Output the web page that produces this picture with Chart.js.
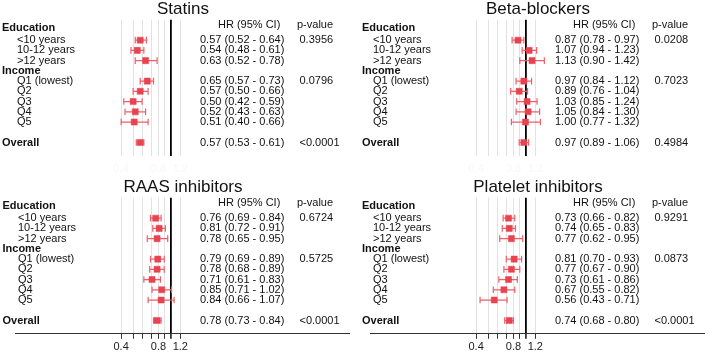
<!DOCTYPE html>
<html><head><meta charset="utf-8">
<script src="https://cdn.jsdelivr.net/npm/chart.js@4"></script>
<style>
html,body{margin:0;padding:0;background:#fff;}
#wrap{position:relative;width:709px;height:356px;background:#fff;}
.panel{position:absolute;width:354px;height:178px;}
canvas{display:block;}
</style></head><body>
<div id="wrap">
<div class="panel" style="left:0;top:0"><canvas id="c0" width="354" height="178" style="width:354px;height:178px"></canvas></div>
<div class="panel" style="left:355px;top:0"><canvas id="c1" width="354" height="178" style="width:354px;height:178px"></canvas></div>
<div class="panel" style="left:0;top:178px"><canvas id="c2" width="354" height="178" style="width:354px;height:178px"></canvas></div>
<div class="panel" style="left:355px;top:178px"><canvas id="c3" width="354" height="178" style="width:354px;height:178px"></canvas></div>
</div>
<script>
// ---- data ----
const categories = ['Education','<10 years','10-12 years','>12 years','Income','Q1 (lowest)','Q2','Q3','Q4','Q5','','Overall'];
const groupHeaders = ['Education','Income'];
const boldLabels = ['Education','Income','Overall'];
const pValueCategories = ['<10 years','Q1 (lowest)','Overall'];
const titles = ['Statins','Beta-blockers','RAAS inhibitors','Platelet inhibitors'];
const xTickValues = [0.4,0.5,0.6,0.7,0.8,0.9,1.0,1.2];
const xTickLabels = ['0.4','','','','0.8','','','1.2'];

const statinsHR = [0.57,0.54,0.63,0.65,0.57,0.50,0.52,0.51,0.57];
const statinsLo = [0.52,0.48,0.52,0.57,0.50,0.42,0.43,0.40,0.53];
const statinsHi = [0.64,0.61,0.78,0.73,0.66,0.59,0.63,0.66,0.61];
const statinsP  = ['0.3956','0.0796','<0.0001'];

const betaHR = [0.87,1.07,1.13,0.97,0.89,1.03,1.05,1.00,0.97];
const betaLo = [0.78,0.94,0.90,0.84,0.76,0.85,0.84,0.77,0.89];
const betaHi = [0.97,1.23,1.42,1.12,1.04,1.24,1.30,1.32,1.06];
const betaP  = ['0.0208','0.7023','0.4984'];

const raasHR = [0.76,0.81,0.78,0.79,0.78,0.71,0.85,0.84,0.78];
const raasLo = [0.69,0.72,0.65,0.69,0.68,0.61,0.71,0.66,0.73];
const raasHi = [0.84,0.91,0.95,0.89,0.89,0.83,1.02,1.07,0.84];
const raasP  = ['0.6724','0.5725','<0.0001'];

const plateletHR = [0.73,0.74,0.77,0.81,0.77,0.73,0.67,0.56,0.74];
const plateletLo = [0.66,0.65,0.62,0.70,0.67,0.61,0.55,0.43,0.68];
const plateletHi = [0.82,0.83,0.95,0.93,0.90,0.86,0.82,0.71,0.80];
const plateletP  = ['0.9291','0.0873','<0.0001'];

// ---- drawing ----
const FONT = "'Liberation Sans', Arial, Helvetica, sans-serif";
const SQ = '#E9434F';
const WH = '#EE5F69';
const TXT = '#111';
const XMIN = 0.05571, XMAX = 27.65;

const estimateRows = categories.map((c,i)=>i).filter(i => categories[i] !== '' && !groupHeaders.includes(categories[i]));
const pRows = pValueCategories.map(c => categories.indexOf(c));
const fmt = v => v.toFixed(2);

const textPlugin = {
  id: 'forestText',
  afterDraw(chart, args, o) {
    const ctx = chart.ctx;
    const ys = chart.scales.y;
    ctx.save();
    ctx.fillStyle = TXT;
    ctx.textBaseline = 'middle';
    ctx.textAlign = 'left';
    ctx.font = `11px ${FONT}`;
    const hy = ys.getPixelForValue(-0.5);
    ctx.fillText('HR (95% CI)', o.hrHeadX, hy);
    ctx.fillText('p-value', o.pHeadX, hy);
    categories.forEach((c, i) => {
      if (!c) return;
      const bold = boldLabels.includes(c);
      ctx.font = `${bold ? 'bold ' : ''}11px ${FONT}`;
      const x = bold ? o.labelX : o.indentX;
      const yy = ys.getPixelForValue(c === 'Education' ? i - 0.2 : i);
      ctx.fillText(c, x, yy);
    });
    ctx.font = `11px ${FONT}`;
    estimateRows.forEach((r, k) => {
      ctx.fillText(`${fmt(o.hr[k])} (${fmt(o.lo[k])} - ${fmt(o.hi[k])})`, o.hrX, ys.getPixelForValue(r));
    });
    pRows.forEach((r, k) => {
      ctx.fillText(o.p[k], o.pX, ys.getPixelForValue(r));
    });
    ctx.restore();
  }
};

function makeChart(id, title, hr, lo, hi, p, showAxis, labelX, indentX) {
  const points = hr.map((v, k) => ({x: v, y: estimateRows[k]}));
  const whiskers = hr.map((v, k) => ({
    data: [{x: lo[k], y: estimateRows[k]}, {x: hi[k], y: estimateRows[k]}],
    showLine: true,
    borderColor: WH,
    borderWidth: 1.2,
    pointStyle: 'line',
    rotation: 90,
    pointRadius: 3.3,
    pointHoverRadius: 3.3,
    pointBorderColor: WH,
    pointBorderWidth: 1.2,
    order: 1
  }));
  new Chart(document.getElementById(id), {
    type: 'scatter',
    data: {
      datasets: [{
        data: points,
        pointStyle: 'rect',
        pointRadius: 4.3,
        pointHoverRadius: 4.3,
        backgroundColor: SQ,
        borderColor: SQ,
        borderWidth: 0.5,
        order: 0
      }, ...whiskers]
    },
    options: {
      responsive: false,
      animation: false,
      events: [],
      layout: {padding: {left: 15, right: 3, top: 0, bottom: 0}},
      plugins: {
        legend: {display: false},
        tooltip: {enabled: false},
        title: {
          display: true, text: title, color: TXT,
          font: {size: 17, family: FONT, weight: 'normal', lineHeight: 1.1},
          padding: {top: 0, bottom: 1}
        },
        forestText: {hr, lo, hi, p, labelX, indentX, hrX: 200, pX: 299.5, hrHeadX: 218, pHeadX: 297}
      },
      scales: {
        x: {
          type: 'logarithmic',
          min: XMIN, max: XMAX,
          afterBuildTicks: s => { s.ticks = xTickValues.map(v => ({value: v})); },
          ticks: {
            autoSkip: false, maxRotation: 0, minRotation: 0, padding: 2,
            color: showAxis ? '#222' : '#f8f8f8',
            font: {size: 11, family: FONT},
            callback: (v, i) => xTickLabels[i]
          },
          grid: {
            color: c => (c.tick && c.tick.value === 1) ? '#000' : '#e2e2e2',
            lineWidth: c => (c.tick && c.tick.value === 1) ? 1.8 : 1,
            tickColor: showAxis ? '#333' : 'rgba(0,0,0,0)',
            tickLength: 5,
            drawTicks: true
          },
          border: {display: showAxis, color: '#333', width: 1}
        },
        y: {type: 'linear', reverse: true, min: -1, max: 12.3, display: false}
      }
    },
    plugins: [textPlugin]
  });
}

makeChart('c0', titles[0], statinsHR, statinsLo, statinsHi, statinsP, false, 2, 17);
makeChart('c1', titles[1], betaHR, betaLo, betaHi, betaP, false, 7, 18);
makeChart('c2', titles[2], raasHR, raasLo, raasHi, raasP, true, 2.5, 18);
makeChart('c3', titles[3], plateletHR, plateletLo, plateletHi, plateletP, true, 7, 18);
</script>
</body></html>
